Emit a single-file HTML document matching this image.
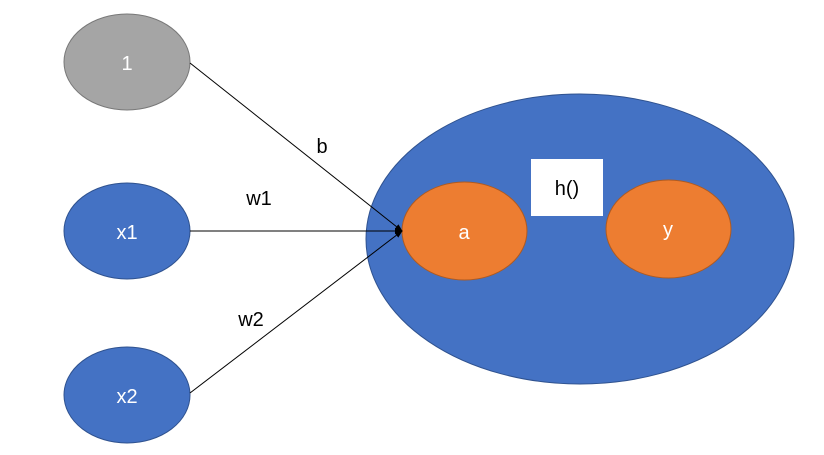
<!DOCTYPE html>
<html><head><meta charset="utf-8"><style>html,body{margin:0;padding:0;background:#fff}svg{display:block}</style></head><body>
<svg width="824" height="455" viewBox="0 0 824 455" xmlns="http://www.w3.org/2000/svg" font-family="Liberation Sans, sans-serif">
<defs><marker id="ar" markerWidth="8" markerHeight="8" refX="7" refY="4" orient="auto" markerUnits="userSpaceOnUse"><path d="M0,1 L8,4 L0,7 Z" fill="#000"/></marker></defs>
<ellipse cx="580" cy="239" rx="214" ry="145" fill="#4472c4" stroke="#2f528f" stroke-width="1"/>
<ellipse cx="127" cy="62" rx="63" ry="48" fill="#a5a5a5" stroke="#787878" stroke-width="1"/>
<ellipse cx="127" cy="231" rx="63" ry="48" fill="#4472c4" stroke="#2f528f" stroke-width="1"/>
<ellipse cx="127" cy="395" rx="63" ry="48" fill="#4472c4" stroke="#2f528f" stroke-width="1"/>
<ellipse cx="464.5" cy="231" rx="62.5" ry="49" fill="#ed7d31" stroke="#ae5a21" stroke-width="1"/>
<ellipse cx="668.5" cy="229" rx="62.5" ry="49" fill="#ed7d31" stroke="#ae5a21" stroke-width="1"/>
<rect x="531" y="159" width="72" height="57" fill="#fff"/>
<line x1="190" y1="63" x2="402" y2="231" stroke="#000" stroke-width="1" marker-end="url(#ar)"/>
<line x1="190" y1="231" x2="402" y2="231" stroke="#000" stroke-width="1" marker-end="url(#ar)"/>
<line x1="190" y1="393" x2="402" y2="231" stroke="#000" stroke-width="1" marker-end="url(#ar)"/>
<g font-size="20" text-anchor="middle" fill="#fff">
<text x="127" y="70">1</text>
<text x="127" y="239">x1</text>
<text x="127" y="403">x2</text>
<text x="464" y="239">a</text>
<text x="668" y="236">y</text>
</g>
<g font-size="20" text-anchor="middle" fill="#000">
<text x="567" y="195">h()</text>
<text x="322" y="153">b</text>
<text x="259" y="205">w1</text>
<text x="251" y="326">w2</text>
</g>
</svg>
</body></html>
